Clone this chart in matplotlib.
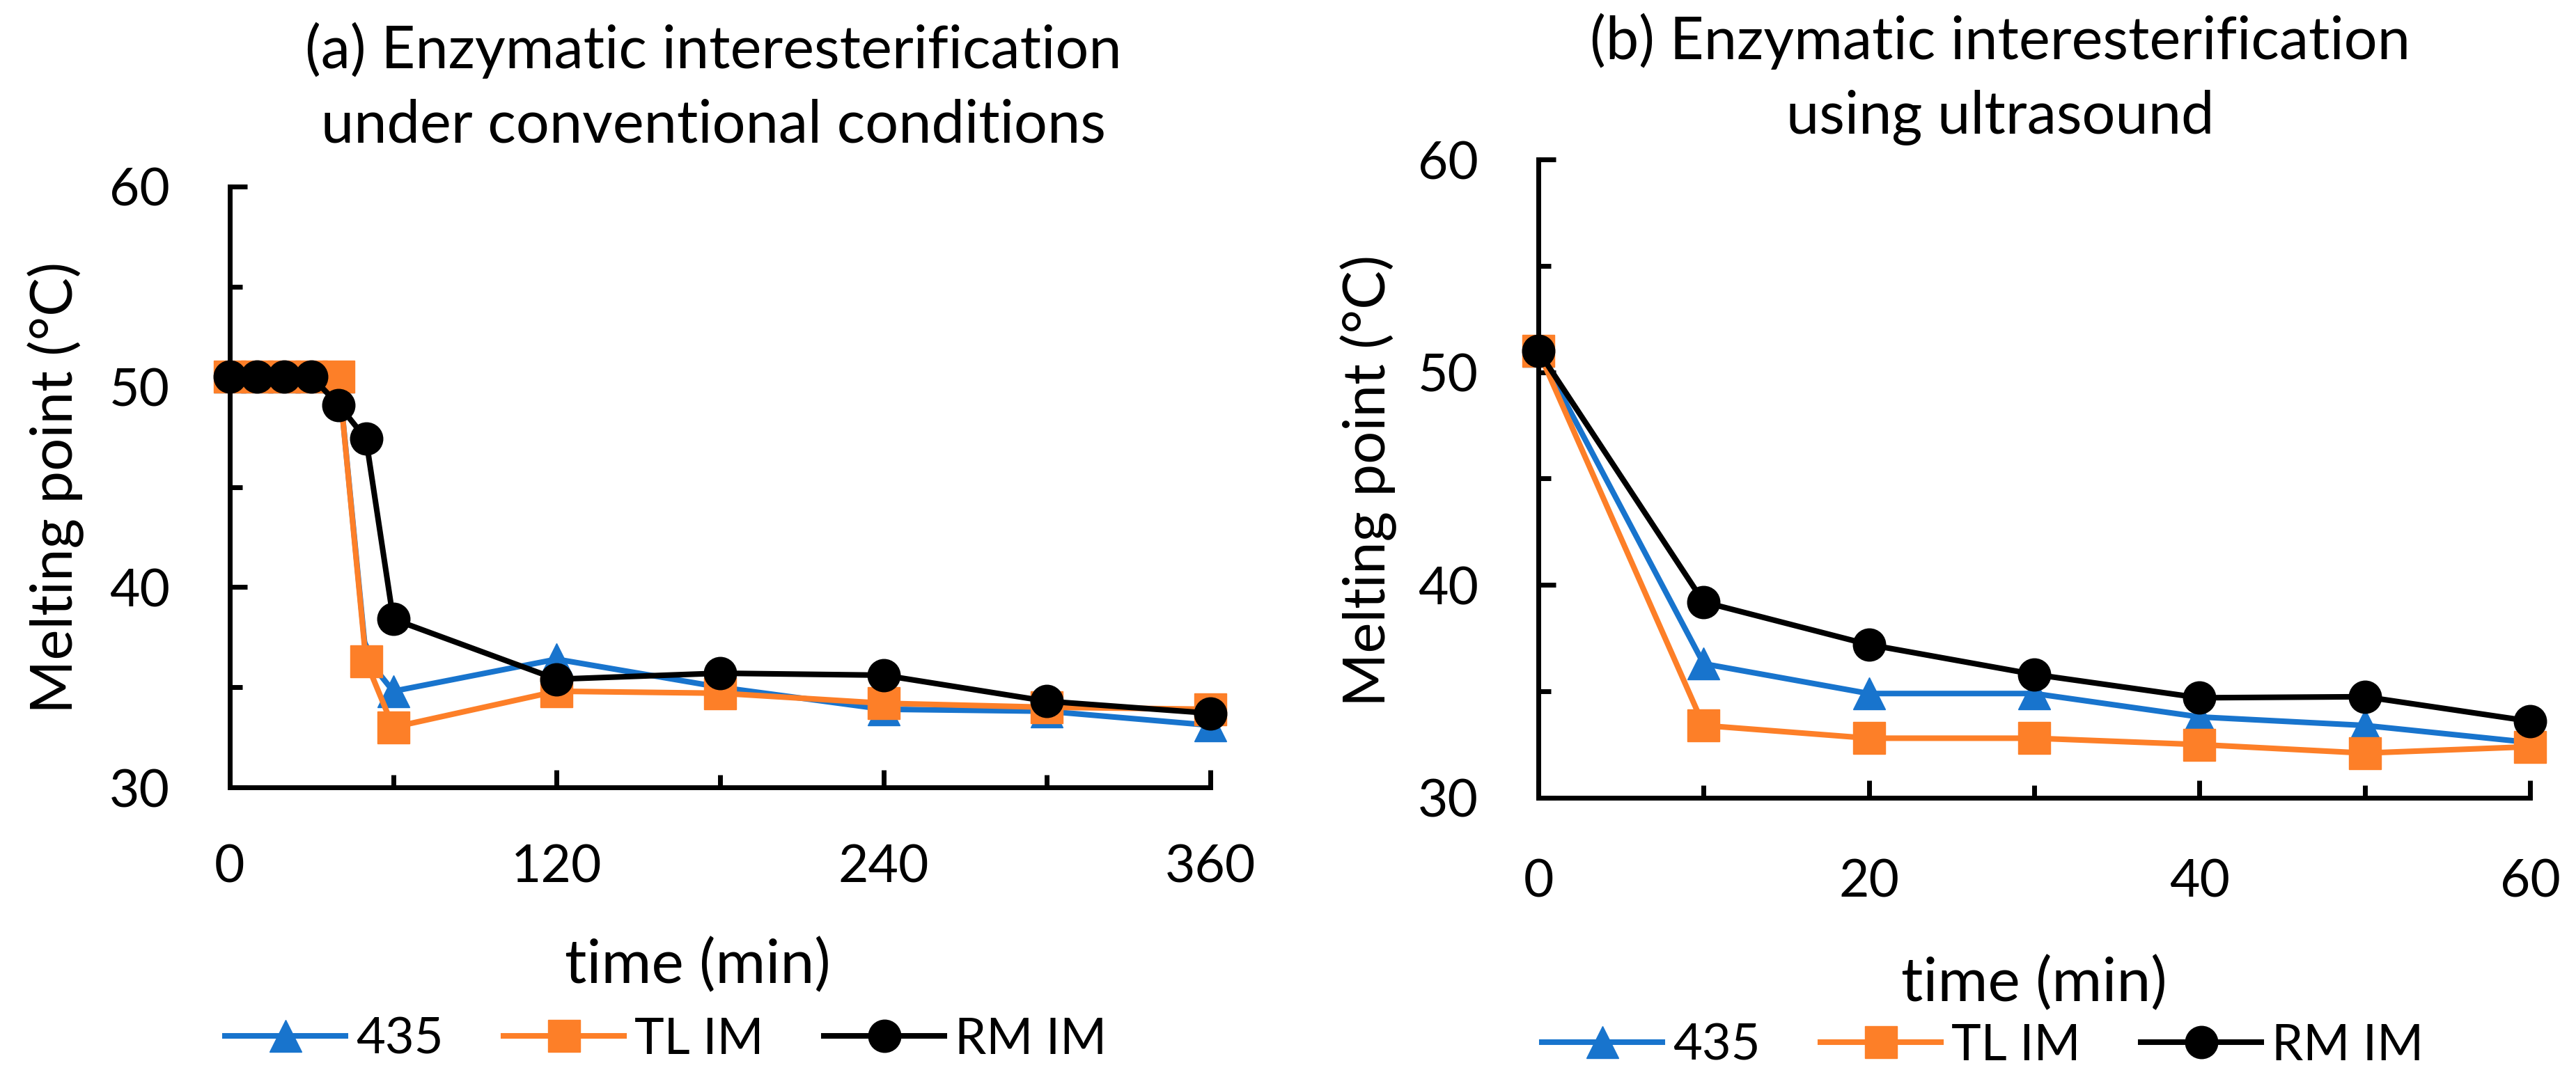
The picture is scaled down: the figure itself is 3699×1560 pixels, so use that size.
import matplotlib
matplotlib.use('Agg')
import matplotlib.pyplot as plt
from matplotlib.ticker import MultipleLocator

plt.rcParams['font.family'] = ['Lato', 'DejaVu Sans']

# 数据 (a) 常规条件
time_a = [0, 10, 20, 30, 40, 50, 60, 120, 180, 240, 300, 360]
mp_435_a = [50.5, 50.5, 50.5, 50.5, 50.5, 36.5, 34.8, 36.4, 35.0, 33.9, 33.8, 33.1]
mp_tl_a = [50.5, 50.5, 50.5, 50.5, 50.5, 36.3, 33.0, 34.8, 34.7, 34.2, 34.0, 33.9]
mp_rm_a = [50.5, 50.5, 50.5, 50.5, 49.1, 47.4, 38.4, 35.4, 35.7, 35.6, 34.3, 33.7]

# 数据 (b) 超声
time_b = [0, 10, 20, 30, 40, 50, 60]
mp_435_b = [51.0, 36.3, 34.9, 34.9, 33.8, 33.4, 32.6]
mp_tl_b = [51.0, 33.4, 32.8, 32.8, 32.5, 32.1, 32.4]
mp_rm_b = [51.0, 39.2, 37.2, 35.8, 34.7, 34.75, 33.6]

labels = ['435', 'TL IM', 'RM IM']
colors = ['#1874CD', '#FD7F28', '#000000']
markers = ['^', 's', 'o']

titles = ['(a) Enzymatic interesterification\nunder conventional conditions',
          '(b) Enzymatic interesterification\nusing ultrasound']

W, H = 3699, 1560
fig = plt.figure(figsize=(W / 100, H / 100), dpi=100)

def px_axes(l, r, t, b):
    return fig.add_axes([l / W, 1 - b / H, (r - l) / W, (b - t) / H])

ax_a = px_axes(330, 1738, 268, 1131)
ax_b = px_axes(2209, 3633, 229, 1146)

fs_tick = 54
fs_ylab = 60
fs_xlab = 63
fs_leg = 52
fs_title = 61
lw = 5.8
ms = 33.5

def draw(ax, x, series, xmax, xmaj, xmin, xpad):
    for y, lab, c, m in zip(series, labels, colors, markers):
        ax.plot(x, y, color=c, lw=lw, marker=m, ms=ms, mec=c, mfc=c,
                mew=1, label=lab, clip_on=False)
    ax.set_xlim(0, xmax)
    ax.set_ylim(30, 60)
    ax.xaxis.set_major_locator(MultipleLocator(xmaj))
    ax.xaxis.set_minor_locator(MultipleLocator(xmin))
    ax.yaxis.set_major_locator(MultipleLocator(10))
    ax.yaxis.set_minor_locator(MultipleLocator(5))
    for s in ['top', 'right']:
        ax.spines[s].set_visible(False)
    for s in ['left', 'bottom']:
        ax.spines[s].set_linewidth(5)
    ax.tick_params(which='major', direction='in', length=18, width=5,
                   labelsize=fs_tick)
    ax.tick_params(which='minor', direction='in', length=13, width=5)
    ax.tick_params(axis='y', which='major', pad=62)
    ax.tick_params(axis='x', which='major', pad=xpad)
    ax.set_ylabel('Melting point (°C)', fontsize=fs_ylab)
    ax.set_xlabel('time (min)', fontsize=fs_xlab)

draw(ax_a, time_a, [mp_435_a, mp_tl_a, mp_rm_a], 360, 120, 60, 58)
draw(ax_b, time_b, [mp_435_b, mp_tl_b, mp_rm_b], 60, 20, 10, 62)

# 轴标签位置
ax_a.yaxis.set_label_coords((80 - 330) / 1408, (1131 - 700) / 863)
ax_b.yaxis.set_label_coords((1965 - 2209) / 1424, (1146 - 690) / 917)
ax_a.yaxis.label.set_va('center')
ax_b.yaxis.label.set_va('center')
ax_a.xaxis.set_label_coords((1002 - 330) / 1408, (1131 - 1387) / 863)
ax_b.xaxis.set_label_coords(0.5, (1146 - 1413) / 917)
ax_a.xaxis.label.set_va('center')
ax_b.xaxis.label.set_va('center')

# 图例
for ax, cx, cy in [(ax_a, (956 - 330) / 1408, (1131 - 1493) / 863),
                   (ax_b, (2847 - 2209) / 1424, (1146 - 1502) / 917)]:
    ax.legend(loc='center', bbox_to_anchor=(cx, cy), ncol=3, frameon=False,
              fontsize=fs_leg, handlelength=2.4, handletextpad=0.2,
              columnspacing=1.2, borderpad=0, borderaxespad=0)

# 标题
fig.text(1024 / W, 1 - 126 / H, titles[0], ha='center', va='center',
         fontsize=fs_title, linespacing=1.45)
fig.text(2872 / W, 1 - 113 / H, titles[1], ha='center', va='center',
         fontsize=fs_title, linespacing=1.45)

fig.savefig('out.png', dpi=100)
